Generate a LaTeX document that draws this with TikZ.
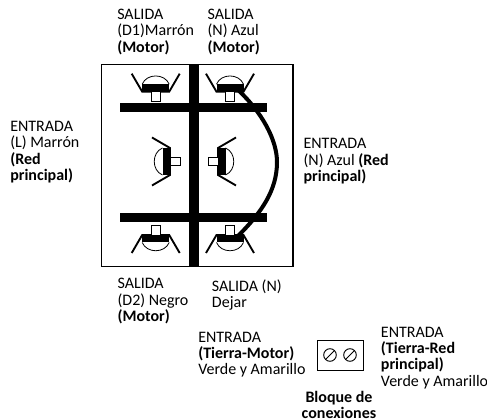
\documentclass[tikz,border=0pt]{standalone}
\usepackage{fontspec}
\setmainfont{Carlito}
\tikzset{
	lbl/.style={anchor=north west, inner sep=0pt, align=left, font=\fontsize{12}{12.2}\selectfont},
	busbar/.style={fill=black, draw=none},
	terminal/.pic={
		\fill (-13.5,-7.5) -- (13.5,-7.5) -- (13.5,0) -- (-13.5,0) -- cycle;
		\draw[line width=0.6pt] (-13.5,-7.5) .. controls (-9,-18.5) and (9,-18.5) .. (13.5,-7.5);
		\draw[line width=1.4pt] (-24,-18) -- (-13.5,0) -- (13.5,0) -- (24,-18);
		\draw[line width=0.6pt, fill=white] (-4.3,0) rectangle (4.3,10);
	}
}

\begin{document}
\begin{tikzpicture}[x=0.75pt, y=-0.75pt]
	\useasboundingbox (0,0) rectangle (487,420);
	\draw[line width=0.8pt] (101.5,64.5) rectangle (293,266.5);

	% contacts
	\pic at (155.7,91.7) {terminal};
	\pic at (230,91.7) {terminal};
	\pic[rotate=180] at (155.7,235) {terminal};
	\pic[rotate=180] at (230,235) {terminal};
	\pic[rotate=90] at (170,161.5) {terminal};
	\pic[rotate=-90] at (218,161.5) {terminal};

	% bars
	\fill[busbar] (189,64.5) rectangle (199.3,267);
	\fill[busbar] (120,103.3) rectangle (267,112);
	\fill[busbar] (120,213) rectangle (267,222);

	% jumper
	\draw[line width=3pt] (237,89) .. controls (262,112) and (277,140) .. (277,162)
	.. controls (277,190) and (262,212) .. (238,236);

	% labels
	\node[lbl] (d1) at (117,9) {SALIDA\\(D1)Marrón\\\textbf{(Motor)}};
	\node[lbl] (na) at (207.3,9) {SALIDA\\(N) Azul\\\textbf{(Motor)}};
	\node[lbl] (lin) at (10,121) {ENTRADA\\(L) Marrón\\\textbf{(Red}\\\textbf{principal)}};
	\node[lbl] (nin) at (303.3,138.3) {ENTRADA\\(N) Azul \textbf{(Red}\\\textbf{principal)}};
	\node[lbl] (d2) at (117.3,278.3) {SALIDA\\(D2) Negro\\\textbf{(Motor)}};
	\node[lbl] (nout) at (211.7,279.3) {SALIDA (N)\\Dejar};
	\node[lbl] (tm) at (198,331.7) {ENTRADA\\\textbf{(Tierra-Motor)}\\Verde y Amarillo};
	\node[lbl] (tr) at (380.7,326.7) {ENTRADA\\\textbf{(Tierra-Red}\\\textbf{principal)}\\Verde y Amarillo};
	\node[lbl, align=center, anchor=north] (blk) at (339,391) {\textbf{Bloque de}\\\textbf{conexiones}};

	% block
	\node[draw, line width=0.8pt, minimum width=34.7pt, minimum height=22.5pt, inner sep=0pt] (block) at (340.8,355.7) {};
	\foreach \cx in {330,350}{
		\draw[line width=0.7pt] (\cx,355) circle (6.3);
		\draw[line width=0.7pt] (\cx-4.5,359.5) -- (\cx+4.5,350.5);
	}
\end{tikzpicture}
\end{document}
